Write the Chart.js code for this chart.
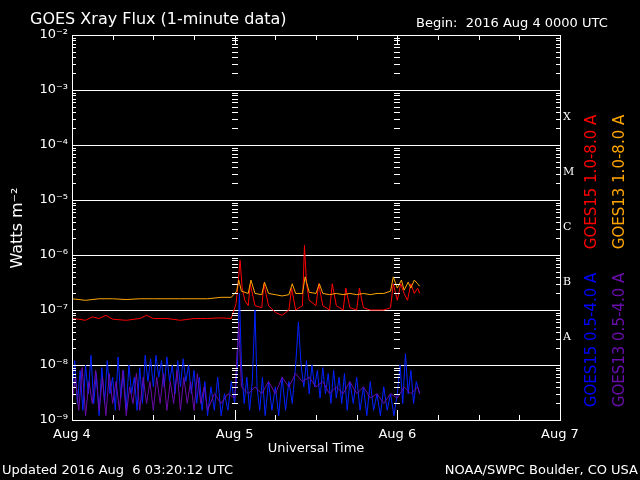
<!DOCTYPE html><html><head><meta charset="utf-8">
<script src="https://cdn.jsdelivr.net/npm/chart.js@4/dist/chart.umd.min.js"></script>
<style>html,body{margin:0;background:#000}#c{display:block}</style></head><body>
<div style="width:640px;height:480px"><canvas id="c"></canvas></div>
<script>
const dayLabels=["Aug 4","Aug 5","Aug 6","Aug 7"];
const dayHours=[0,24,48,72];
const yTicks=[1e-9,1e-8,1e-7,1e-6,1e-5,1e-4,1e-3,1e-2];
const yTickLabels=["10⁻⁹","10⁻⁸","10⁻⁷","10⁻⁶","10⁻⁵","10⁻⁴","10⁻³","10⁻²"];
const classLetters=["A","B","C","M","X"];
const classMid=[3.2e-8,3.2e-7,3.2e-6,3.2e-5,3.2e-4];
const goes15Long=[[0,7e-8],[1,6.8e-8],[2,6.5e-8],[3,7.5e-8],[4,7e-8],[5,8e-8],[6,6.8e-8],[8,6.5e-8],[10,7e-8],[11,8e-8],[12,7e-8],[14,7e-8],[16,6.5e-8],[18,7e-8],[20,7e-8],[22,7.2e-8],[23.5,7e-8],[24.2,1.3e-7],[24.5,3e-7],[24.8,8e-7],[25.1,2.5e-7],[25.5,1.5e-7],[26,1.2e-7],[26.3,3e-7],[27,1.2e-7],[28,1.1e-7],[28.3,3e-7],[29,1.2e-7],[30,9e-8],[31,8e-8],[32,1e-7],[32.4,2.5e-7],[33,1e-7],[34,1.2e-7],[34.3,1.5e-6],[34.6,3e-7],[35,1.5e-7],[36,1.2e-7],[36.4,3e-7],[37,1.2e-7],[38,1e-7],[38.4,3e-7],[39,1.2e-7],[40,1e-7],[40.4,2.5e-7],[41,1.1e-7],[42,1e-7],[42.4,2.5e-7],[43,1.1e-7],[44,1e-7],[45,1e-7],[46,1e-7],[47,1.1e-7],[47.4,3e-7],[48,1.5e-7],[48.5,3e-7],[49,2e-7],[49.5,1.5e-7],[50,3e-7],[50.5,2e-7],[51,2.5e-7],[51.3,2e-7]];
const goes13Long=[[0,1.6e-7],[2,1.5e-7],[4,1.6e-7],[6,1.6e-7],[8,1.55e-7],[10,1.6e-7],[12,1.6e-7],[14,1.6e-7],[16,1.6e-7],[18,1.6e-7],[20,1.6e-7],[22,1.7e-7],[23.5,1.7e-7],[24.3,2.2e-7],[24.6,3.5e-7],[25,2.2e-7],[26,2e-7],[26.4,3.5e-7],[27,2e-7],[28,1.9e-7],[28.4,3.2e-7],[29,2e-7],[30,1.9e-7],[31,1.8e-7],[32,1.9e-7],[32.5,3e-7],[33,2e-7],[34,2e-7],[34.4,4e-7],[35,2.1e-7],[36,2e-7],[36.5,3e-7],[37,2e-7],[38,1.9e-7],[39,2e-7],[40,1.9e-7],[41,2e-7],[42,1.9e-7],[43,2e-7],[44,1.9e-7],[45,2e-7],[46,2e-7],[47,2.2e-7],[47.4,4e-7],[48,2.5e-7],[48.6,3.5e-7],[49,2.3e-7],[49.6,3.2e-7],[50,2.5e-7],[50.5,3.5e-7],[51,3e-7],[51.3,2.7e-7]];
const goes15Short=[[0,3e-9],[0.4,1.2e-8],[0.8,2e-9],[1.2,8e-9],[1.6,1.5e-9],[2,1e-8],[2.4,3e-9],[2.8,1.5e-8],[3.2,2e-9],[3.6,7e-9],[4,1.2e-9],[4.4,9e-9],[4.8,2e-9],[5.2,1.2e-8],[5.6,3e-9],[6,6e-9],[6.4,1.5e-9],[6.8,1.4e-8],[7.2,2.5e-9],[7.6,8e-9],[8,1.5e-9],[8.4,1e-8],[8.8,3e-9],[9.2,6e-9],[9.6,1.5e-9],[10,9e-9],[10.4,2e-9],[10.8,1.5e-8],[11.2,5e-9],[11.6,1.3e-8],[12,4e-9],[12.4,1.5e-8],[12.8,6e-9],[13.2,1.2e-8],[13.6,4e-9],[14,1.4e-8],[14.4,5e-9],[14.8,1e-8],[15.2,3e-9],[15.6,1.2e-8],[16,4e-9],[16.4,1.3e-8],[16.8,5e-9],[17.2,1e-8],[17.6,3e-9],[18,8e-9],[18.4,2e-9],[18.8,6e-9],[19.2,1.5e-9],[19.6,5e-9],[20,1.2e-9],[20.5,4e-9],[21,1.5e-9],[21.5,6e-9],[22,1.2e-9],[22.5,3e-9],[23,1.5e-9],[23.5,5e-9],[24,2e-9],[24.4,1e-8],[24.7,2e-7],[25,1e-8],[25.4,2e-9],[25.8,6e-9],[26.2,1.5e-9],[26.6,5e-9],[27,1e-7],[27.3,4e-9],[27.7,1.5e-9],[28.1,6e-9],[28.5,1.2e-9],[29,5e-9],[29.5,1.5e-9],[30,4e-9],[30.5,1.2e-9],[31,6e-9],[31.5,1.5e-9],[32,5e-9],[32.5,2e-9],[33,1e-8],[33.4,6e-8],[33.8,1e-8],[34.2,4e-9],[34.6,1.2e-8],[35,3e-9],[35.4,1e-8],[35.8,4e-9],[36.2,8e-9],[36.6,2.5e-9],[37,9e-9],[37.4,3e-9],[37.8,7e-9],[38.2,2e-9],[38.6,8e-9],[39,2.5e-9],[39.4,6e-9],[39.8,2e-9],[40.2,7e-9],[40.6,1.5e-9],[41,5e-9],[41.5,2e-9],[42,6e-9],[42.5,1.5e-9],[43,4e-9],[43.5,1.2e-9],[44,5e-9],[44.5,1.5e-9],[45,3e-9],[45.5,1.2e-9],[46,4e-9],[46.5,1.5e-9],[47,3e-9],[47.5,1.2e-9],[48,3e-9],[48.4,1e-8],[48.8,2e-9],[49.2,1.6e-8],[49.6,3e-9],[50,8e-9],[50.4,2e-9],[50.8,5e-9],[51.3,3e-9]];
const goes13Short=[[0,2e-9],[0.5,6e-9],[1,1.5e-9],[1.5,9e-9],[2,1.2e-9],[2.5,5e-9],[3,2e-9],[3.5,8e-9],[4,1.5e-9],[4.5,6e-9],[5,1.2e-9],[5.5,7e-9],[6,2e-9],[6.5,5e-9],[7,1.5e-9],[7.5,8e-9],[8,1.2e-9],[8.5,4e-9],[9,2e-9],[9.5,7e-9],[10,1.5e-9],[10.5,6e-9],[11,2e-9],[11.5,5e-9],[12,1.5e-9],[12.5,6e-9],[13,2e-9],[13.5,7e-9],[14,1.5e-9],[14.5,5e-9],[15,2e-9],[15.5,8e-9],[16,1.5e-9],[16.5,6e-9],[17,2e-9],[17.5,5e-9],[18,1.5e-9],[18.5,7e-9],[19,2e-9],[19.5,4e-9],[20,1.5e-9],[21,3e-9],[22,2e-9],[23,3e-9],[24,2.5e-9],[24.6,6e-8],[25,4e-9],[26,3e-9],[27,4e-9],[28,3e-9],[29,5e-9],[30,3e-9],[31,6e-9],[32,4e-9],[33,7e-9],[34,5e-9],[35,6e-9],[36,4e-9],[37,5e-9],[38,3e-9],[39,4e-9],[40,3e-9],[41,5e-9],[42,3e-9],[43,4e-9],[44,2.5e-9],[45,3e-9],[46,2e-9],[47,3e-9],[48,2.5e-9],[49,4e-9],[50,3e-9],[51,4e-9],[51.3,3e-9]];
const toPts=a=>a.map(p=>({x:p[0],y:p[1]}));
const F='"DejaVu Sans", sans-serif';
const deco={id:'deco',afterDraw(ch){
 const c=ch.ctx,a=ch.chartArea,xs=ch.scales.x,ys=ch.scales.y;
 c.save();c.strokeStyle='#fff';c.fillStyle='#fff';c.lineWidth=1;
 c.strokeRect(a.left+.5,a.top+.5,a.right-a.left,a.bottom-a.top);
 for(let e=-9;e<-2;e++)for(let m=1;m<10;m++){const y=Math.round(ys.getPixelForValue(m*Math.pow(10,e)))+.5;const L=m==1?8:4;
  c.beginPath();c.moveTo(a.left,y);c.lineTo(a.left+L,y);c.moveTo(a.right,y);c.lineTo(a.right-L,y);c.stroke();
  if(m>1)[24,48].forEach(h=>{const x=Math.round(xs.getPixelForValue(h));c.beginPath();c.moveTo(x-3,y);c.lineTo(x+3,y);c.stroke();});}
 for(let h=6;h<72;h+=6){const x=Math.round(xs.getPixelForValue(h))+.5;const L=h%24==0?10:5;
  c.beginPath();c.moveTo(x,a.top);c.lineTo(x,a.top+L);c.moveTo(x,a.bottom);c.lineTo(x,a.bottom-L);c.stroke();}
 c.font='13px '+F;c.textAlign='right';c.textBaseline='middle';
 yTicks.forEach((v,i)=>c.fillText(yTickLabels[i],a.left-4,ys.getPixelForValue(v)));
 c.textAlign='center';c.textBaseline='top';
 dayHours.forEach((h,i)=>c.fillText(dayLabels[i],xs.getPixelForValue(h),a.bottom+8));
 c.fillText('Universal Time',(a.left+a.right)/2,a.bottom+22);
 c.font='11px "DejaVu Serif", serif';c.textAlign='left';c.textBaseline='middle';
 classLetters.forEach((l,i)=>c.fillText(l,a.right+3,ys.getPixelForValue(classMid[i])));
 c.font='16px '+F;c.textAlign='left';c.textBaseline='alphabetic';
 c.fillText('GOES Xray Flux (1-minute data)',30,24);
 c.font='13px '+F;c.fillText('Begin:  2016 Aug 4 0000 UTC',416,27);
 c.fillText('Updated 2016 Aug  6 03:20:12 UTC',2,474);
 c.textAlign='right';c.fillText('NOAA/SWPC Boulder, CO USA',638,474);
 function vt(t,x,y,col,size){c.save();c.translate(x,y);c.rotate(-Math.PI/2);c.fillStyle=col;c.font=size+'px '+F;c.textAlign='center';c.textBaseline='middle';c.fillText(t,0,0);c.restore();}
 vt('Watts m⁻²',18,228,'#fff',16);
 vt('GOES15 1.0-8.0 A',592,182,'#ff0000',15);
 vt('GOES13 1.0-8.0 A',620,182,'#ffa500',15);
 vt('GOES15 0.5-4.0 A',592,340,'#0000ff',15);
 vt('GOES13 0.5-4.0 A',620,340,'#6a0dad',15);
 c.restore();}};
const ds=(d,col)=>({data:toPts(d),borderColor:col,borderWidth:1,pointRadius:0,tension:0,fill:false});
new Chart(document.getElementById('c'),{type:'line',
 data:{datasets:[ds(goes13Short,'#6a0dad'),ds(goes15Short,'#0022ff'),ds(goes13Long,'#ffa500'),ds(goes15Long,'#ff0000')]},
 options:{responsive:true,maintainAspectRatio:false,animation:false,events:[],
  layout:{padding:{left:72,right:80,top:35,bottom:60}},
  plugins:{legend:{display:false},tooltip:{enabled:false}},
  scales:{x:{type:'linear',min:0,max:72,display:false},
   y:{type:'logarithmic',min:1e-9,max:1e-2,display:true,
    afterBuildTicks:s=>{s.ticks=yTicks.map(v=>({value:v}));},
    ticks:{display:false},border:{display:false},
    grid:{color:'#fff',lineWidth:1,drawTicks:false}}}},
 plugins:[deco]});
</script></body></html>
